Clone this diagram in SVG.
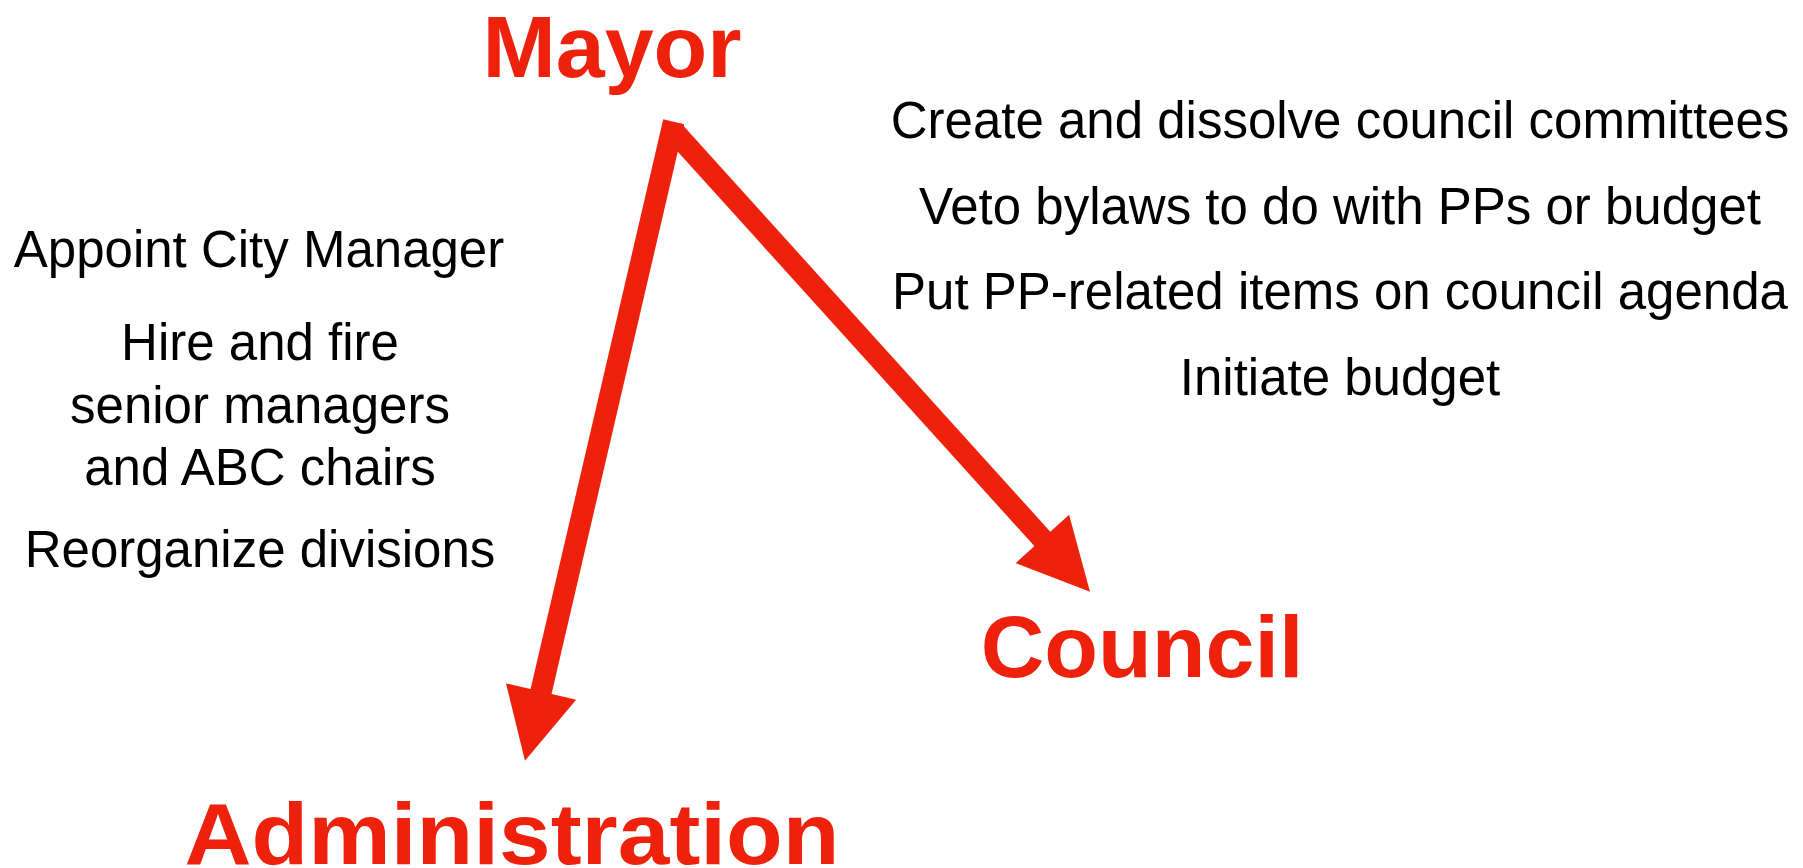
<svg xmlns="http://www.w3.org/2000/svg" width="1803" height="868" viewBox="0 0 1803 868">
  <style>
    .title { font-family: "Liberation Sans", Arial, sans-serif; font-weight: bold; font-size: 88px; fill: #EE220C; text-anchor: middle; }
    .item { font-family: "Liberation Sans", Arial, sans-serif; font-size: 51px; fill: #000000; text-anchor: middle; }
    .conn { stroke: #EE220C; stroke-width: 21.5; fill: none; stroke-linecap: butt; }
  </style>
  <defs>
    <marker id="head" markerUnits="userSpaceOnUse" orient="auto" refX="0" refY="0" markerWidth="80" markerHeight="80" overflow="visible">
      <path d="M-10,-36 L61,0 L-10,36 Z" fill="#EE220C"/>
    </marker>
  </defs>
  <rect x="0" y="0" width="1803" height="868" fill="#FFFFFF"/>

  <g id="connectors">
    <line class="conn" x1="673.7" y1="121.8" x2="538.8" y2="701.3" marker-end="url(#head)"/>
    <line class="conn" x1="672.9" y1="130.3" x2="1049.1" y2="546.4" marker-end="url(#head)"/>
  </g>

  <g id="mayor">
    <text class="title" x="612" y="77">Mayor</text>
  </g>
  <g id="council">
    <text class="title" x="1142" y="677">Council</text>
  </g>
  <g id="administration">
    <text class="title" x="512" y="864" textLength="655" lengthAdjust="spacingAndGlyphs">Administration</text>
  </g>

  <g id="admin-powers">
    <text class="item" x="259" y="267">Appoint City Manager</text>
    <text class="item" x="260" y="360">Hire and fire</text>
    <text class="item" x="260" y="423">senior managers</text>
    <text class="item" x="260" y="485">and ABC chairs</text>
    <text class="item" x="260" y="567">Reorganize divisions</text>
  </g>

  <g id="council-powers">
    <text class="item" x="1340" y="138">Create and dissolve council committees</text>
    <text class="item" x="1340" y="224">Veto bylaws to do with PPs or budget</text>
    <text class="item" x="1340" y="309">Put PP-related items on council agenda</text>
    <text class="item" x="1340" y="395">Initiate budget</text>
  </g>
</svg>
